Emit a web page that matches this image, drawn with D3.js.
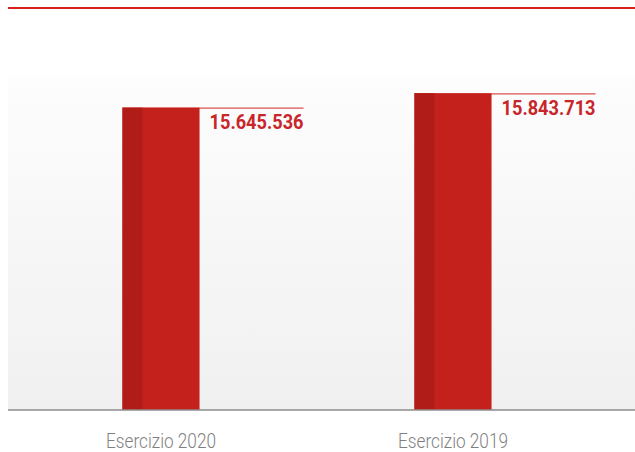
<!DOCTYPE html>
<html>
<head>
<meta charset="utf-8">
<script src="https://cdn.jsdelivr.net/npm/d3@7/dist/d3.min.js"></script>
<style>
  html, body { margin: 0; padding: 0; background: #ffffff; }
  svg { display: block; }
</style>
</head>
<body>
<script>
// ---- data ----
const categories = ["Esercizio 2020", "Esercizio 2019"];
const values = [15645536, 15843713];
const valueLabels = ["15.645.536", "15.843.713"];

// ---- layout ----
const W = 635, H = 452;
const plotLeft = 8, plotRight = 635, plotTop = 77, plotBottom = 410;

const svg = d3.select("body").append("svg")
  .attr("width", W).attr("height", H);

const defs = svg.append("defs");
const grad = defs.append("linearGradient")
  .attr("id", "bg").attr("x1", 0).attr("y1", 0).attr("x2", 0).attr("y2", 1);
grad.append("stop").attr("offset", "0%").attr("stop-color", "#fdfdfd");
grad.append("stop").attr("offset", "100%").attr("stop-color", "#f0f0f0");

const x = d3.scaleBand().domain(categories)
  .range([15, 599]).paddingInner(0.736).paddingOuter(0.368);
const y = d3.scaleLinear().domain([11485000, 16068000])
  .range([plotBottom, plotTop]);

// top red rule
svg.append("line")
  .attr("x1", 8).attr("x2", W).attr("y1", 8).attr("y2", 8)
  .attr("stroke", "#d41f1c").attr("stroke-width", 1.8);

// background panel
svg.append("rect")
  .attr("x", plotLeft).attr("y", plotTop)
  .attr("width", plotRight - plotLeft).attr("height", plotBottom - plotTop)
  .attr("fill", "url(#bg)");

const data = categories.map((c, i) => ({ c, v: values[i], label: valueLabels[i] }));

// label leader lines
svg.selectAll(".lead").data(data).join("line")
  .attr("class", "lead")
  .attr("x1", d => x(d.c))
  .attr("x2", d => x(d.c) + x.bandwidth() + 104)
  .attr("y1", d => y(d.v) + 0.5)
  .attr("y2", d => y(d.v) + 0.5)
  .attr("stroke", "#d9534f").attr("stroke-width", 1.2);

// bars
const g = svg.selectAll(".bar").data(data).join("g").attr("class", "bar");
g.append("rect")
  .attr("x", d => x(d.c))
  .attr("y", d => y(d.v))
  .attr("width", x.bandwidth())
  .attr("height", d => plotBottom - y(d.v))
  .attr("fill", "#c4211c");
g.append("rect")
  .attr("x", d => x(d.c))
  .attr("y", d => y(d.v))
  .attr("width", 20)
  .attr("height", d => plotBottom - y(d.v))
  .attr("fill", "#b01d19");

// value labels
svg.selectAll(".val").data(data).join("text")
  .attr("class", "val")
  .attr("x", d => x(d.c) + x.bandwidth() + 10)
  .attr("y", d => y(d.v) + 21.3)
  .attr("font-family", "Roboto, 'Liberation Sans', Arial, sans-serif")
  .attr("font-weight", 700)
  .attr("font-size", 20.5)
  .attr("fill", "#c8262a")
  .attr("textLength", 94)
  .attr("lengthAdjust", "spacingAndGlyphs")
  .text(d => d.label);

// baseline
svg.append("line")
  .attr("x1", plotLeft).attr("x2", plotRight)
  .attr("y1", plotBottom).attr("y2", plotBottom)
  .attr("stroke", "#8c8c8c").attr("stroke-width", 1.6);

// category labels (axis)
const axis = d3.axisBottom(x).tickSize(0).tickPadding(0);
const ax = svg.append("g").attr("transform", `translate(0,${plotBottom})`).call(axis);
ax.select(".domain").remove();
ax.selectAll("text")
  .attr("y", 38)
  .attr("dy", null)
  .attr("font-family", "Roboto, 'Liberation Sans', Arial, sans-serif")
  .attr("font-weight", 300)
  .attr("font-size", 20.5)
  .attr("fill", "#7f7f7f")
  .attr("textLength", 110)
  .attr("lengthAdjust", "spacingAndGlyphs");
</script>
</body>
</html>
